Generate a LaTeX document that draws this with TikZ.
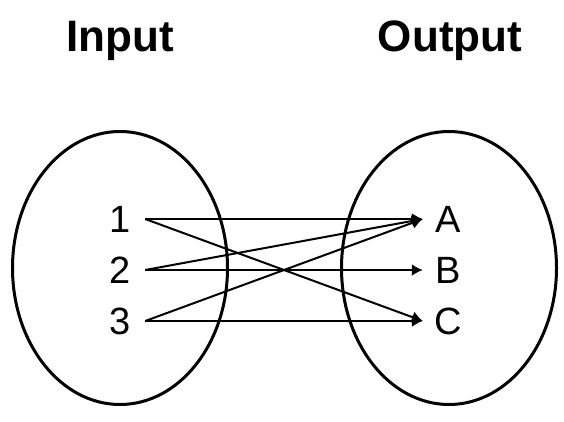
\documentclass[tikz,border=0pt]{standalone}
\usepackage{fontspec}
\setmainfont{Liberation Sans}
\usetikzlibrary{arrows.meta,shapes.geometric}

\begin{document}
\begin{tikzpicture}[
        x=1pt, y=-1pt,
        set/.style={ellipse, draw, line width=3pt, minimum width=215pt, minimum height=273pt, inner sep=0pt},
        title/.style={font=\fontsize{44}{48}\selectfont\bfseries},
        elem/.style={font=\fontsize{38}{42}\selectfont, minimum width=50pt, inner sep=0pt},
        map/.style={line width=2pt, -{Latex[length=11pt,width=12pt]}}
      ]
      \useasboundingbox (0,0) rectangle (564,421);
      \node[set] (dom) at (120,268) {};
      \node[set] (cod) at (449,268) {};
      \node[title] (inp) at (120,41) {Input};
      \node[title] (outp) at (450,41) {Output};
      \node[elem] (n1) at (120,219) {1};
      \node[elem] (n2) at (120,270) {2};
      \node[elem] (n3) at (120,321) {3};
      \node[elem] (lA) at (448,219) {A};
      \node[elem] (lB) at (448,270) {B};
      \node[elem] (lC) at (448,321) {C};
      \draw[map] (n1.east) -- (lA.west);
      \draw[map] (n1.east) -- (lC.west);
      \draw[map] (n2.east) -- (lA.west);
      \draw[map] (n2.east) -- (lB.west);
      \draw[map] (n3.east) -- (lA.west);
      \draw[map] (n3.east) -- (lC.west);
      \end{tikzpicture}
\end{document}
